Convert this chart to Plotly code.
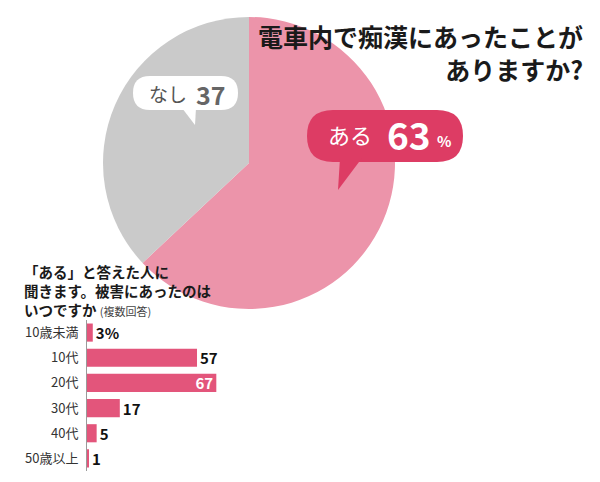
import plotly.graph_objects as go

# === DATA ===
pie_labels = ['ある', 'なし']
pie_values = [63, 37]

age_labels = ['10歳未満', '10代', '20代', '30代', '40代', '50歳以上']
age_values = [3, 57, 67, 17, 5, 1]

# === STYLE ===
W, H = 600, 482
FONT = 'Noto Sans CJK JP'
PIE_PINK = '#EC94AA'
PIE_GRAY = '#CACACA'
BAR_PINK = '#E3557B'
CALLOUT_PINK = '#DD3C64'


def px(x):
    return x / W


def py(y):
    return 1 - y / H


def rounded_box(x0, y0, x1, y1, r):
    # rounded rectangle in pixel coords -> svg path in paper coords
    pts = [
        ('M', (x0 + r, y0)), ('L', (x1 - r, y0)), ('Q', (x1, y0), (x1, y0 + r)),
        ('L', (x1, y1 - r)), ('Q', (x1, y1), (x1 - r, y1)),
        ('L', (x0 + r, y1)), ('Q', (x0, y1), (x0, y1 - r)),
        ('L', (x0, y0 + r)), ('Q', (x0, y0), (x0 + r, y0)),
    ]
    out = []
    for cmd, *ps in pts:
        out.append(cmd + ' '.join(f'{px(a):.5f},{py(b):.5f}' for a, b in ps))
    return ' '.join(out) + ' Z'


def triangle(p1, p2, p3):
    return 'M{} L{} L{} Z'.format(*[f'{px(a):.5f},{py(b):.5f}' for a, b in (p1, p2, p3)])


def label(x, y, text, size, color, bold=False, xanchor='center', yanchor='middle', **kw):
    fig.add_annotation(
        x=px(x), y=py(y), xref='paper', yref='paper', showarrow=False, text=text,
        xanchor=xanchor, yanchor=yanchor,
        font=dict(family=FONT, size=size, color=color, weight='bold' if bold else 'normal'),
        **kw,
    )


fig = go.Figure()

# === PIE ===
fig.add_trace(go.Pie(
    labels=pie_labels,
    values=pie_values,
    sort=False,
    direction='clockwise',
    rotation=0,
    marker=dict(colors=[PIE_PINK, PIE_GRAY], line=dict(width=0)),
    textinfo='none',
    hoverinfo='none',
    domain=dict(x=[px(103), px(395)], y=[py(309), py(17)]),
))

# === BARS ===
bar_text = [f'{v}%' if i == 0 else str(v) for i, v in enumerate(age_values)]
bar_pos = ['inside' if v == max(age_values) else 'outside' for v in age_values]

fig.add_trace(go.Bar(
    y=age_labels,
    x=age_values,
    orientation='h',
    marker=dict(color=BAR_PINK, line=dict(width=0)),
    width=0.72,
    text=bar_text,
    textposition=bar_pos,
    insidetextanchor='end',
    textangle=0,
    constraintext='none',
    cliponaxis=False,
    outsidetextfont=dict(family=FONT, size=15, color='#111', weight='bold'),
    insidetextfont=dict(family=FONT, size=15, color='white', weight='bold'),
    hoverinfo='none',
))

fig.update_layout(
    width=W, height=H,
    margin=dict(l=0, r=0, t=0, b=0),
    paper_bgcolor='white',
    plot_bgcolor='white',
    showlegend=False,
    font=dict(family=FONT, color='#222'),
    xaxis=dict(domain=[px(87), px(280)], range=[0, 100], visible=False, fixedrange=True),
    yaxis=dict(
        domain=[py(471), py(320)],
        categoryorder='array', categoryarray=age_labels, autorange='reversed',
        showline=True, linecolor='#9a9a9a', linewidth=1,
        showgrid=False, ticks='', ticklabelstandoff=5,
        tickfont=dict(family=FONT, size=13, color='#333'),
        fixedrange=True,
    ),
)

# === CALLOUTS ===
shapes = [
    dict(type='path', path=rounded_box(307, 110, 463, 162, 26), fillcolor=CALLOUT_PINK,
         line=dict(width=0), xref='paper', yref='paper'),
    dict(type='path', path=triangle((340, 158), (362, 158), (338, 190)), fillcolor=CALLOUT_PINK,
         line=dict(width=0), xref='paper', yref='paper'),
    dict(type='path', path=rounded_box(133, 76, 238, 110, 17), fillcolor='white',
         line=dict(width=0), xref='paper', yref='paper'),
    dict(type='path', path=triangle((182, 108), (196, 108), (195, 125)), fillcolor='white',
         line=dict(width=0), xref='paper', yref='paper'),
]
fig.update_layout(shapes=shapes)

label(350, 134, pie_labels[0], 22, 'white')
label(409, 134, str(pie_values[0]), 37, 'white', bold=True)
label(444, 140, '%', 15, 'white', bold=True)
label(168, 94, pie_labels[1], 19, '#555')
label(211, 94, str(pie_values[1]), 25, '#666', bold=True)

# === TITLES ===
label(585, 52, '電車内で痴漢にあったことが<br>ありますか?', 25, '#1a1a1a', bold=True,
      xanchor='right', align='right')

label(22, 290,
      '<b>「ある」と答えた人に<br>聞きます。被害にあったのは<br>いつですか</b> '
      "<span style='font-size:11px;color:#444'>(複数回答)</span>",
      14.5, '#1a1a1a', xanchor='left', align='left')

fig.write_html('out.html', config={'displayModeBar': False},
               post_script="document.body.style.margin='0';")
